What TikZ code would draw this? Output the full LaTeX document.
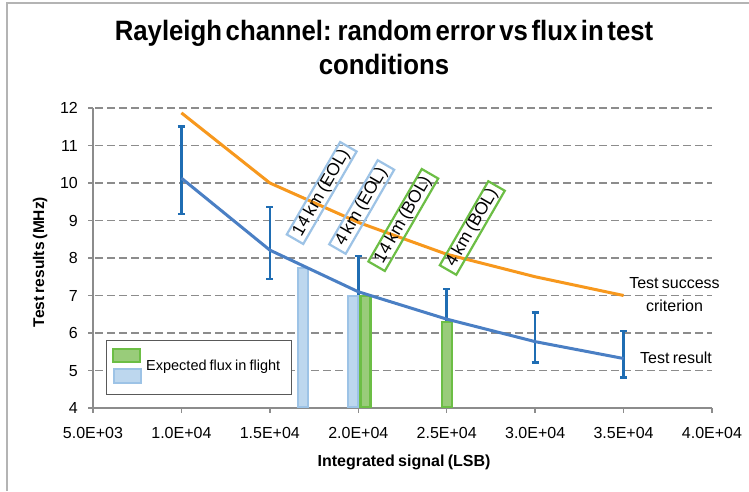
\documentclass[tikz,border=0pt]{standalone}
\usepackage{fontspec}
\setmainfont{Liberation Sans}
\newfontfamily\titlefont{Liberation Sans}[FakeStretch=0.92,WordSpace=0.5]
\newfontfamily\labfont{Liberation Sans}[WordSpace=0.75]
\definecolor{critorange}{HTML}{F7981D}
\definecolor{resblue}{HTML}{4A7FC4}
\definecolor{errblue}{HTML}{1F6DB3}
\definecolor{gridgray}{HTML}{8C8C8C}
\definecolor{axisgray}{HTML}{8C8C8C}
\definecolor{framegray}{HTML}{B4B4B4}
\definecolor{lbborder}{HTML}{9DC3E6}
\definecolor{lbfill}{HTML}{BDD7EE}
\definecolor{grborder}{HTML}{6CBE45}
\definecolor{grfill}{HTML}{99CC7A}
\tikzset{
  gridline/.style={gridgray, line width=1.1pt, dash pattern=on 8pt off 4pt},
  axisline/.style={axisgray, line width=1.5pt},
  errbar/.style={errblue, line width=2.6pt},
  errcap/.style={errblue, line width=2.6pt},
  resline/.style={resblue, line width=3pt, line join=round},
  critline/.style={critorange, line width=3pt, line join=round},
  lbbar/.style={draw=lbborder, fill=lbfill, line width=2.5pt},
  grbar/.style={draw=grborder, fill=grfill, line width=2.5pt},
  ticklab/.style={font=\labfont\fontsize{16}{18}\selectfont, inner sep=0pt},
  axtitle/.style={font=\labfont\bfseries\fontsize{16}{18}\selectfont, inner sep=0pt},
  rotlab/.style={rotate=60, line width=2.2pt, font=\labfont\fontsize{17.5}{19}\selectfont,
     inner xsep=5pt, inner ysep=1pt, text height=12.5pt, text depth=3.7pt, minimum height=19pt},
  sidelab/.style={font=\labfont\fontsize{16}{18}\selectfont, inner sep=0pt, anchor=base},
}
\begin{document}
\begin{tikzpicture}[x=1pt,y=-1pt]
\useasboundingbox (0,0) rectangle (749,491);
\fill[white] (0,0) rectangle (749,491);
\draw[framegray, line width=1.3pt] (7,491) -- (7,3) -- (749,3);

% title
\node[anchor=base, inner sep=0pt, font=\titlefont\bfseries\fontsize{28}{33}\selectfont] (title1) at (384,40.5) {Rayleigh channel: random error vs flux in test};
\node[anchor=base, inner sep=0pt, font=\titlefont\bfseries\fontsize{28}{33}\selectfont] (title2) at (384,74) {conditions};

% grid lines and y ticks
\foreach \v in {5,...,12} {
  \pgfmathsetmacro{\yy}{408-(\v-4)*37.5}
  \draw[gridline] (95,\yy) -- (712,\yy);
}
\foreach \v in {4,...,12} {
  \pgfmathsetmacro{\yy}{408-(\v-4)*37.5}
  \draw[axisline] (88,\yy) -- (93,\yy);
  \node[ticklab, anchor=base east] (yl\v) at (78,\yy+5.7) {\v};
}
% axes
\draw[axisline] (93,108) -- (93,408);
\draw[axisline] (92.25,408) -- (712,408);
\foreach \k/\lab in {5/5.0E+03,10/1.0E+04,15/1.5E+04,20/2.0E+04,25/2.5E+04,30/3.0E+04,35/3.5E+04,40/4.0E+04} {
  \pgfmathsetmacro{\xx}{93+(\k-5)*17.6857}
  \draw[axisline] (\xx,408) -- (\xx,413);
  \node[ticklab, anchor=base] (xl\k) at (\xx,438.3) {\lab};
}

% axis titles
\node[axtitle, anchor=base] (xtitle) at (404,466) {Integrated signal (LSB)};
\node[axtitle, rotate=90, font=\labfont\bfseries\fontsize{15.5}{18}\selectfont] (ytitle) at (40,262) {Test results (MHz)};

% data scope
\begin{scope}[shift={(4.571pt,-558pt)}, x=17.6857pt, y=37.5pt]
  % error bars
  \foreach \k/\lo/\hi in {10/9.17/11.5, 15/7.44/9.36, 20/6.15/8.05, 25/5.57/7.17, 30/5.21/6.54, 35/4.81/6.05} {
    \draw[errbar] (\k,\lo) -- (\k,\hi);
    \draw[errcap] (\k-0.2,\lo) -- (\k+0.2,\lo);
    \draw[errcap] (\k-0.2,\hi) -- (\k+0.2,\hi);
  }
\end{scope}

% expected flux bars
\draw[lbbar] (298.2,268) rectangle (308.2,406.75);
\draw[lbbar] (348.2,296.2) rectangle (358.2,406.75);
\draw[grbar] (360.7,296.2) rectangle (370.5,406.75);
\draw[grbar] (442.2,322.2) rectangle (451.8,406.75);

\begin{scope}[shift={(4.571pt,-558pt)}, x=17.6857pt, y=37.5pt]
  \draw[critline] plot coordinates {(10,11.87) (15,10.0) (20,8.95) (25,8.1) (30,7.5) (35,7.0)};
  \draw[resline] plot coordinates {(10,10.13) (15,8.21) (20,7.1) (25,6.37) (30,5.77) (35,5.32)};
\end{scope}

% rotated labels
\node[rotlab, draw=lbborder] (l14eol) at (321.7,193) {14 km (EOL)};
\node[rotlab, draw=lbborder] (l4eol) at (361.7,207) {4 km (EOL)};
\node[rotlab, draw=grborder] (l14bol) at (403.3,220) {14 km (BOL)};
\node[rotlab, draw=grborder] (l4bol) at (472.3,228) {4 km (BOL)};

% side labels
\node[sidelab] (crit1) at (674.5,288.3) {Test success};
\node[sidelab] (crit2) at (674.5,311) {criterion};
\node[sidelab] (res) at (676,363.3) {Test result};

% legend
\draw[draw=black!65, fill=white, line width=0.9pt] (106,340) rectangle (291,394);
\draw[grbar, line width=2pt] (112.5,349) rectangle (139.5,361.5);
\draw[lbbar, line width=2pt] (113.5,369) rectangle (140.5,383);
\node[font=\labfont\fontsize{14.5}{16}\selectfont, inner sep=0pt, anchor=west] (legtext) at (146,366.7) {Expected flux in flight};
\end{tikzpicture}
\end{document}
